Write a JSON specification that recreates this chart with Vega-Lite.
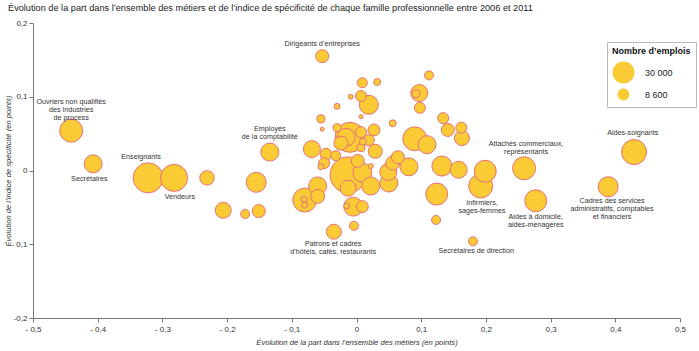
{
  "$schema": "https://vega.github.io/schema/vega-lite/v6.json",
  "autosize": "none",
  "width": 647,
  "height": 295,
  "padding": {"left": 33, "top": 23, "right": 19, "bottom": 33},
  "background": "white",
  "config": {
    "view": {"stroke": null},
    "font": "Liberation Sans, Arial, sans-serif"
  },
  "title": {
    "text": "Évolution de la part dans l’ensemble des métiers et de l’indice de spécificité de chaque famille professionnelle entre 2006 et 2011",
    "anchor": "start",
    "frame": "group",
    "dx": -25,
    "offset": 6,
    "fontSize": 9.2,
    "fontWeight": "normal",
    "color": "#222222",
    "font": "Liberation Sans, Arial, sans-serif"
  },
  "datasets": {
    "bubbles": [
      {"x": -0.441, "y": 0.054, "v": 32800},
      {"x": -0.407, "y": 0.009, "v": 20100},
      {"x": -0.322, "y": -0.010, "v": 55800},
      {"x": -0.282, "y": -0.010, "v": 45200},
      {"x": -0.231, "y": -0.010, "v": 13000},
      {"x": -0.155, "y": -0.016, "v": 24800},
      {"x": -0.134, "y": 0.025, "v": 20100},
      {"x": -0.206, "y": -0.054, "v": 15900},
      {"x": -0.172, "y": -0.059, "v": 5000},
      {"x": -0.151, "y": -0.055, "v": 10500},
      {"x": -0.053, "y": 0.155, "v": 10500},
      {"x": 0.009, "y": 0.119, "v": 6200},
      {"x": 0.032, "y": 0.120, "v": 3000},
      {"x": 0.112, "y": 0.129, "v": 5000},
      {"x": -0.009, "y": 0.100, "v": 1550},
      {"x": 0.007, "y": 0.101, "v": 7500},
      {"x": 0.019, "y": 0.089, "v": 22400},
      {"x": -0.030, "y": 0.087, "v": 2200},
      {"x": 0.007, "y": 0.073, "v": 1000},
      {"x": -0.055, "y": 0.070, "v": 4000},
      {"x": -0.053, "y": 0.056, "v": 1000},
      {"x": 0.056, "y": 0.064, "v": 3000},
      {"x": -0.030, "y": 0.058, "v": 4000},
      {"x": -0.010, "y": 0.045, "v": 55800},
      {"x": -0.016, "y": 0.045, "v": 20100},
      {"x": 0.007, "y": 0.052, "v": 7500},
      {"x": 0.027, "y": 0.055, "v": 8900},
      {"x": 0.019, "y": 0.041, "v": 7500},
      {"x": 0.010, "y": 0.039, "v": 3000},
      {"x": 0.007, "y": 0.031, "v": 4000},
      {"x": 0.029, "y": 0.026, "v": 12200},
      {"x": -0.024, "y": 0.037, "v": 12200},
      {"x": -0.069, "y": 0.029, "v": 17900},
      {"x": -0.047, "y": 0.022, "v": 8900},
      {"x": -0.032, "y": 0.020, "v": 6200},
      {"x": -0.050, "y": 0.010, "v": 7500},
      {"x": -0.055, "y": 0.005, "v": 2200},
      {"x": -0.013, "y": -0.006, "v": 80400},
      {"x": 0.002, "y": 0.013, "v": 10500},
      {"x": 0.009, "y": -0.003, "v": 22400},
      {"x": -0.013, "y": -0.024, "v": 15900},
      {"x": 0.022, "y": -0.021, "v": 20100},
      {"x": 0.022, "y": 0.006, "v": 1550},
      {"x": -0.005, "y": -0.049, "v": 22400},
      {"x": -0.015, "y": -0.048, "v": 2200},
      {"x": 0.009, "y": -0.049, "v": 8900},
      {"x": -0.035, "y": -0.083, "v": 14000},
      {"x": -0.004, "y": -0.075, "v": 5000},
      {"x": -0.060, "y": -0.021, "v": 20100},
      {"x": -0.080, "y": -0.040, "v": 35700},
      {"x": -0.081, "y": -0.039, "v": 2200},
      {"x": -0.080, "y": -0.047, "v": 2200},
      {"x": -0.060, "y": -0.035, "v": 12200},
      {"x": 0.049, "y": -0.002, "v": 17900},
      {"x": 0.050, "y": -0.017, "v": 20100},
      {"x": 0.056, "y": 0.010, "v": 12200},
      {"x": 0.064, "y": 0.018, "v": 10500},
      {"x": 0.081, "y": 0.005, "v": 20100},
      {"x": 0.090, "y": 0.043, "v": 35700},
      {"x": 0.109, "y": 0.035, "v": 20100},
      {"x": 0.097, "y": 0.105, "v": 17900},
      {"x": 0.092, "y": 0.104, "v": 4000},
      {"x": 0.098, "y": 0.085, "v": 7500},
      {"x": 0.134, "y": 0.071, "v": 7500},
      {"x": 0.141, "y": 0.055, "v": 10500},
      {"x": 0.162, "y": 0.058, "v": 7500},
      {"x": 0.163, "y": 0.044, "v": 14000},
      {"x": 0.132, "y": 0.006, "v": 24800},
      {"x": 0.158, "y": 0.001, "v": 17900},
      {"x": 0.199, "y": -0.001, "v": 30000},
      {"x": 0.192, "y": -0.021, "v": 35700},
      {"x": 0.259, "y": 0.003, "v": 32800},
      {"x": 0.429, "y": 0.025, "v": 38750},
      {"x": 0.277, "y": -0.041, "v": 30000},
      {"x": 0.389, "y": -0.022, "v": 24800},
      {"x": 0.124, "y": -0.032, "v": 30000},
      {"x": 0.123, "y": -0.067, "v": 5000},
      {"x": 0.180, "y": -0.096, "v": 5000}
    ],
    "labels": [
      {"x": -0.053, "y": 0.172, "label": "Dirigeants d’entreprises"},
      {"x": -0.441, "y": 0.093, "label": "Ouvriers non qualifiés\ndes industries\nde process"},
      {"x": -0.413, "y": -0.012, "label": "Secrétaires"},
      {"x": -0.333, "y": 0.018, "label": "Enseignants"},
      {"x": -0.273, "y": -0.036, "label": "Vendeurs"},
      {"x": -0.134, "y": 0.056, "label": "Employés\nde la comptabilité"},
      {"x": -0.036, "y": -0.100, "label": "Patrons et cadres\nd’hôtels, cafés, restaurants"},
      {"x": 0.262, "y": 0.036, "label": "Attachés commerciaux,\nreprésentants"},
      {"x": 0.427, "y": 0.051, "label": "Aides-soignants"},
      {"x": 0.194, "y": -0.044, "label": "Infirmiers,\nsages-femmes"},
      {"x": 0.277, "y": -0.063, "label": "Aides à domicile,\naides-ménagères"},
      {"x": 0.395, "y": -0.041, "label": "Cadres des services\nadministratifs, comptables\net financiers"},
      {"x": 0.185, "y": -0.109, "label": "Secrétaires de direction"}
    ]
  },
  "layer": [
    {
      "mark": {"type": "rule", "color": "#a9c9e6", "strokeDash": [2, 2], "strokeWidth": 1},
      "encoding": {"x": {"datum": 0, "type": "quantitative"}}
    },
    {
      "mark": {"type": "rule", "color": "#a9c9e6", "strokeDash": [2, 2], "strokeWidth": 1},
      "encoding": {"y": {"datum": 0, "type": "quantitative"}}
    },
    {
      "data": {"name": "bubbles"},
      "mark": {"type": "point", "shape": "circle", "filled": false, "fill": "#fbcb35", "fillOpacity": 1, "stroke": "#e8707a", "strokeWidth": 1, "opacity": 1},
      "encoding": {
        "x": {
          "field": "x", "type": "quantitative",
          "scale": {"domain": [-0.5, 0.5], "nice": false, "zero": false},
          "axis": {
            "title": "Évolution de la part dans l’ensemble des métiers (en points)",
            "titleFontStyle": "italic", "titleFontWeight": "normal", "titleFontSize": 7.6, "titleColor": "#333333", "titlePadding": 5,
            "values": [-0.5, -0.4, -0.3, -0.2, -0.1, 0, 0.1, 0.2, 0.3, 0.4, 0.5],
            "labelExpr": "datum.value == 0 ? '0' : (datum.value < 0 ? '- ' : '') + replace(format(abs(datum.value), '.1f'), '.', ',')",
            "labelFontSize": 8, "labelColor": "#333333", "labelPadding": 3, "labelFlush": false,
            "grid": false, "domainColor": "#777777", "tickColor": "#777777", "tickSize": 4
          }
        },
        "y": {
          "field": "y", "type": "quantitative",
          "scale": {"domain": [-0.2, 0.2], "nice": false, "zero": false},
          "axis": {
            "title": "Évolution de l’indice de spécificité (en points)",
            "titleFontStyle": "italic", "titleFontWeight": "normal", "titleFontSize": 7.6, "titleColor": "#333333", "titleX": -21,
            "values": [-0.2, -0.1, 0, 0.1, 0.2],
            "labelExpr": "datum.value == 0 ? '0' : datum.value < -0.15 ? '-0,2' : (datum.value < 0 ? '- ' : '') + replace(format(abs(datum.value), '.1f'), '.', ',')",
            "labelFontSize": 8, "labelColor": "#333333", "labelPadding": 2, "labelFlush": false,
            "grid": false, "domainColor": "#777777", "tickColor": "#777777", "tickSize": 4
          }
        },
        "size": {
          "field": "v", "type": "quantitative",
          "scale": {"type": "linear", "domain": [0, 30000], "range": [0, 484], "clamp": false},
          "legend": {
            "title": "Nombre d’emplois",
            "values": [30000, 8600],
            "orient": "none", "legendX": 574, "legendY": 19,
            "direction": "vertical",
            "labelExpr": "replace(format(datum.value, ',d'), ',', ' ')",
            "titleFontSize": 9, "titleFontWeight": "bold", "titleColor": "#111111",
            "titleFont": "Liberation Sans, sans-serif",
            "labelFontSize": 9, "labelColor": "#222222",
            "symbolType": "circle",
            "symbolFillColor": "transparent",
            "symbolStrokeColor": "#111111",
            "symbolStrokeWidth": 0.8,
            "fillColor": "white", "strokeColor": "#bbbbbb", "padding": 5, "rowPadding": 1, "labelOffset": 10,
            "encode": {
              "symbols": {
                "update": {
                  "fill": {"value": "transparent"},
                  "stroke": {"value": "#111111"},
                  "strokeWidth": {"value": 0.8}
                }
              }
            }
          }
        },
        "order": {"field": "v", "type": "quantitative", "sort": "descending"}
      }
    },
    {
      "data": {"name": "labels"},
      "mark": {"type": "text", "align": "center", "baseline": "middle", "fontSize": 7.2, "lineHeight": 8, "lineBreak": "\n", "color": "#333333"},
      "encoding": {
        "x": {"field": "x", "type": "quantitative"},
        "y": {"field": "y", "type": "quantitative"},
        "text": {"field": "label"}
      }
    }
  ]
}
